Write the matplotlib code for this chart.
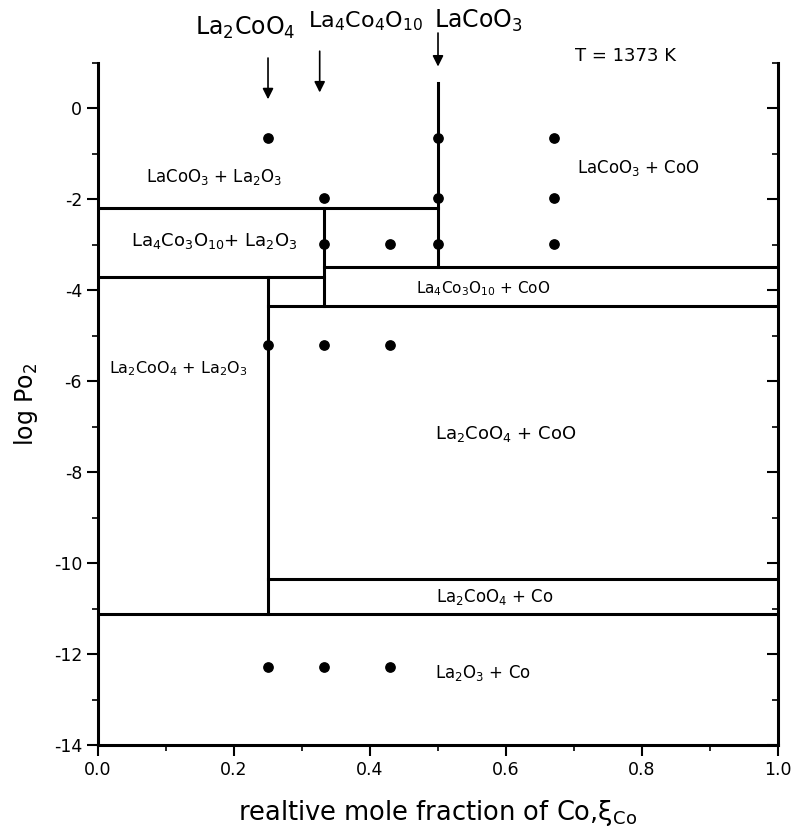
import matplotlib
matplotlib.use("Agg")
import matplotlib.pyplot as plt
from matplotlib.ticker import MultipleLocator, FormatStrFormatter
from matplotlib.lines import TICKLEFT

plt.rcParams['axes.unicode_minus'] = False

# phase boundaries: (x0, x1, y0, y1)
h_lines = [
    (0.0, 0.5, -2.2, -2.2),
    (0.0, 0.333, -3.71, -3.71),
    (0.333, 1.0, -3.48, -3.48),
    (0.25, 1.0, -4.35, -4.35),
    (0.25, 1.0, -10.36, -10.36),
    (0.0, 1.0, -11.13, -11.13),
]
v_lines = [
    (0.333, 0.333, -2.2, -4.35),
    (0.5, 0.5, 0.55, -3.48),
    (0.25, 0.25, -3.71, -11.13),
]

# experimental points
pts_x = [0.25, 0.5, 0.67, 0.333, 0.5, 0.67, 0.333, 0.43, 0.5, 0.67,
         0.25, 0.333, 0.43, 0.25, 0.333, 0.43]
pts_y = [-0.66, -0.66, -0.66, -1.98, -1.98, -1.98, -2.98, -2.98, -2.98, -2.98,
         -5.2, -5.2, -5.2, -12.28, -12.28, -12.28]

# region labels: text, x, y, size
regions = [
    ("LaCoO$_3$ + La$_2$O$_3$", 0.171, -1.5, 12),
    ("La$_4$Co$_3$O$_{10}$+ La$_2$O$_3$", 0.171, -2.92, 13),
    ("LaCoO$_3$ + CoO", 0.794, -1.32, 12),
    ("La$_4$Co$_3$O$_{10}$ + CoO", 0.566, -3.96, 11),
    ("La$_2$CoO$_4$ + La$_2$O$_3$", 0.118, -5.72, 11.5),
    ("La$_2$CoO$_4$ + CoO", 0.599, -7.17, 13),
    ("La$_2$CoO$_4$ + Co", 0.584, -10.75, 12),
    ("La$_2$O$_3$ + Co", 0.566, -12.42, 12),
]

# compounds marked at top: text, arrow x, arrow y top, arrow y bottom, text x, text y, size
compounds = [
    ("La$_2$CoO$_4$", 0.25, 1.17, 0.14, 0.216, 1.78, 17),
    ("La$_4$Co$_4$O$_{10}$", 0.326, 1.32, 0.29, 0.393, 1.92, 16),
    ("LaCoO$_3$", 0.5, 1.72, 0.86, 0.559, 1.93, 17),
]

fig = plt.figure(figsize=(7.95, 8.32), dpi=100)
ax = fig.add_axes([0.1233, 0.1046, 0.8553, 0.8197])

lw = 2.2
for x0, x1, y0, y1 in h_lines + v_lines:
    ax.plot([x0, x1], [y0, y1], color='black', linewidth=lw, solid_capstyle='projecting')

ax.scatter(pts_x, pts_y, s=45, color='black', zorder=3)

for txt, x, y, fs in regions:
    ax.text(x, y, txt, fontsize=fs, ha='center', va='center')

for txt, xa, ya0, ya1, xt, yt, fs in compounds:
    ax.annotate('', xy=(xa, ya1), xytext=(xa, ya0), annotation_clip=False,
                arrowprops=dict(arrowstyle='-|>', color='black', lw=1.2, mutation_scale=16))
    ax.text(xt, yt, txt, fontsize=fs, ha='center', va='center', clip_on=False)

ax.text(0.776, 1.16, "T = 1373 K", fontsize=13, ha='center', va='center', clip_on=False)

ax.set_xlim(0, 1)
ax.set_ylim(-14, 1)
ax.xaxis.set_major_locator(MultipleLocator(0.2))
ax.xaxis.set_minor_locator(MultipleLocator(0.1))
ax.xaxis.set_major_formatter(FormatStrFormatter('%.1f'))
ax.set_yticks(range(-14, 1, 2))
ax.yaxis.set_minor_locator(MultipleLocator(1))

ax.spines['top'].set_visible(False)
for s in ['left', 'right', 'bottom']:
    ax.spines[s].set_linewidth(lw)

ax.tick_params(axis='both', which='major', direction='out', length=8, width=1.5, labelsize=12.5)
ax.tick_params(axis='both', which='minor', direction='out', length=4, width=1.2)
ax.tick_params(axis='y', which='both', right=True, labelright=False)
for t in ax.yaxis.get_major_ticks() + ax.yaxis.get_minor_ticks():
    t.tick2line.set_marker(TICKLEFT)

ax.set_xlabel("realtive mole fraction of Co,ξ$_{\\mathrm{Co}}$", fontsize=18.5, labelpad=14)
ax.set_ylabel("log Po$_2$", fontsize=17, labelpad=10)

fig.savefig("out.png", dpi=100)
